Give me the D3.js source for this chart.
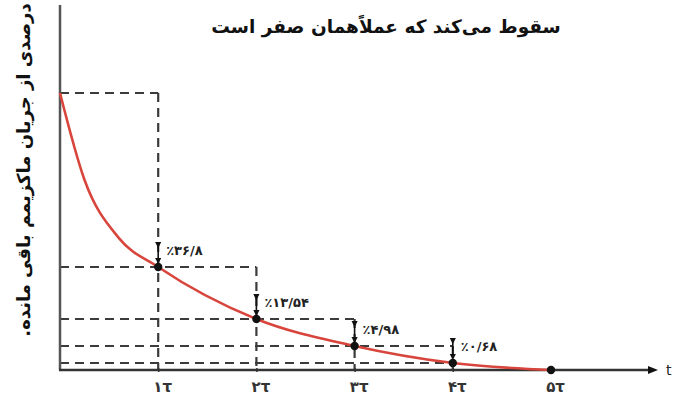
<!DOCTYPE html>
<html>
<head>
<meta charset="utf-8">
<script src="https://cdn.jsdelivr.net/npm/d3@7"></script>
<style>
  body { margin: 0; background: #fff; }
  svg { display: block; }
</style>
</head>
<body>
<main></main>
<script>
const width = 673;
const height = 401;

// data
const titleText = "سقوط می‌کند که عملاًهمان صفر است";
const yTitleText = "درصدی از جریان ماکزیمم باقی مانده.";
const tickTau = [1, 2, 3, 4, 5];
const tickLabels = ["۱τ", "۲τ", "۳τ", "۴τ", "۵τ"];
const pointTau = [1, 2, 3, 4, 5];
const pointPct = [36.8, 13.54, 4.98, 0.68, 0];
const pctLabels = ["٪۳۶/۸", "٪۱۳/۵۴", "٪۴/۹۸", "٪۰/۶۸"];
const levelPct = [100, 36.8, 13.54, 4.98, 0.68];
const levelEndTau = [1, 2, 3, 4, 4];
const curveTau = [0, 0.25, 0.6, 1, 2, 3, 4, 5];
const curvePct = [100, 68.4, 47.3, 36.8, 13.54, 4.98, 0.68, 0];

const x = d3.scaleLinear().domain([0, 5]).range([60, 551]);
// the drawing is not to scale, so the y scale is piecewise
const y = d3.scaleLinear()
  .domain([0, 0.68, 4.98, 13.54, 36.8, 100])
  .range([370, 363, 346, 319, 267, 93]);

const svg = d3.select('main').append('svg')
  .attr('width', width)
  .attr('height', height);

const defs = svg.append('defs');
defs.append('marker')
  .attr('id', 'down')
  .attr('viewBox', '0 0 10 10')
  .attr('refX', 5).attr('refY', 5)
  .attr('markerWidth', 4).attr('markerHeight', 4)
  .attr('orient', 'auto')
  .append('path').attr('d', 'M0,0L10,5L0,10Z').attr('fill', '#111');

const dash = '9,6';
const guideColor = '#3b3b3b';

// horizontal dashed guides
svg.append('g').selectAll('line')
  .data(levelPct)
  .enter().append('line')
  .attr('x1', x(0))
  .attr('x2', (d, i) => x(levelEndTau[i]))
  .attr('y1', d => y(d))
  .attr('y2', d => y(d))
  .style('stroke', guideColor)
  .style('stroke-width', 2.2)
  .style('stroke-dasharray', dash);

// vertical dashed guides
svg.append('g').selectAll('line')
  .data(levelPct.slice(0, 4))
  .enter().append('line')
  .attr('x1', (d, i) => x(i + 1))
  .attr('x2', (d, i) => x(i + 1))
  .attr('y1', d => y(d))
  .attr('y2', y(0))
  .style('stroke', guideColor)
  .style('stroke-width', 2.2)
  .style('stroke-dasharray', dash);

// axes
svg.append('line')
  .attr('x1', x(0)).attr('x2', x(0))
  .attr('y1', 5).attr('y2', y(0))
  .style('stroke', '#555').style('stroke-width', 2.5);

const xAxisEnd = 652;
svg.append('line')
  .attr('x1', x(0) - 1).attr('x2', xAxisEnd)
  .attr('y1', y(0)).attr('y2', y(0))
  .style('stroke', '#333').style('stroke-width', 2.5);
svg.append('path')
  .attr('d', `M${xAxisEnd + 6},${y(0)}L${xAxisEnd - 4},${y(0) - 4}L${xAxisEnd - 4},${y(0) + 4}Z`)
  .attr('fill', '#111');
svg.append('text')
  .attr('x', 666).attr('y', y(0) + 5)
  .style('font-family', 'DejaVu Sans')
  .style('font-size', '14px')
  .style('fill', '#222')
  .text('t');

const xAxis = d3.axisBottom(x)
  .tickValues(tickTau)
  .tickFormat((d, i) => tickLabels[i])
  .tickSize(4)
  .tickPadding(9);
const gx = svg.append('g')
  .attr('transform', `translate(0,${y(0) - 2})`)
  .call(xAxis);
gx.select('.domain').remove();
gx.selectAll('.tick line').style('stroke', '#333').style('stroke-width', 1.5);
gx.selectAll('.tick text')
  .attr('dx', 4)
  .style('font-family', 'DejaVu Sans')
  .style('font-size', '15px')
  .style('font-weight', 'bold')
  .style('fill', '#333');

// decay curve
const line = d3.line()
  .x((d, i) => x(curveTau[i]))
  .y(d => y(d))
  .curve(d3.curveMonotoneX);
svg.append('path')
  .datum(curvePct)
  .attr('d', line)
  .attr('fill', 'none')
  .style('stroke', '#d8453c')
  .style('stroke-width', 2.6);

// short arrows to the points
svg.append('g').selectAll('line')
  .data(pointPct.slice(0, 4))
  .enter().append('line')
  .attr('x1', (d, i) => x(pointTau[i]))
  .attr('x2', (d, i) => x(pointTau[i]))
  .attr('y1', d => y(d) - 22)
  .attr('y2', d => y(d) - 6)
  .attr('marker-start', 'url(#down)')
  .attr('marker-end', 'url(#down)')
  .style('stroke', '#111')
  .style('stroke-width', 1.6);

// points
svg.append('g').selectAll('circle')
  .data(pointPct)
  .enter().append('circle')
  .attr('cx', (d, i) => x(pointTau[i]))
  .attr('cy', d => y(d))
  .attr('r', 4.2)
  .style('fill', '#111');

// percentage labels
svg.append('g').selectAll('text')
  .data(pointPct.slice(0, 4))
  .enter().append('text')
  .attr('x', (d, i) => x(pointTau[i]) + 8)
  .attr('y', d => y(d) - 12)
  .style('font-family', 'DejaVu Sans')
  .style('font-size', '13px')
  .style('font-weight', 'bold')
  .style('fill', '#222')
  .text((d, i) => pctLabels[i]);

// titles
svg.append('text')
  .attr('x', 386).attr('y', 33)
  .attr('text-anchor', 'middle')
  .attr('direction', 'rtl')
  .style('font-family', 'DejaVu Sans')
  .style('font-size', '18.5px')
  .style('font-weight', 'bold')
  .style('fill', '#111')
  .text(titleText);

svg.append('text')
  .attr('transform', 'translate(30,170) rotate(-90)')
  .attr('text-anchor', 'middle')
  .attr('direction', 'rtl')
  .style('font-family', 'DejaVu Sans')
  .style('font-size', '18px')
  .style('font-weight', 'bold')
  .style('fill', '#111')
  .text(yTitleText);
</script>
</body>
</html>
